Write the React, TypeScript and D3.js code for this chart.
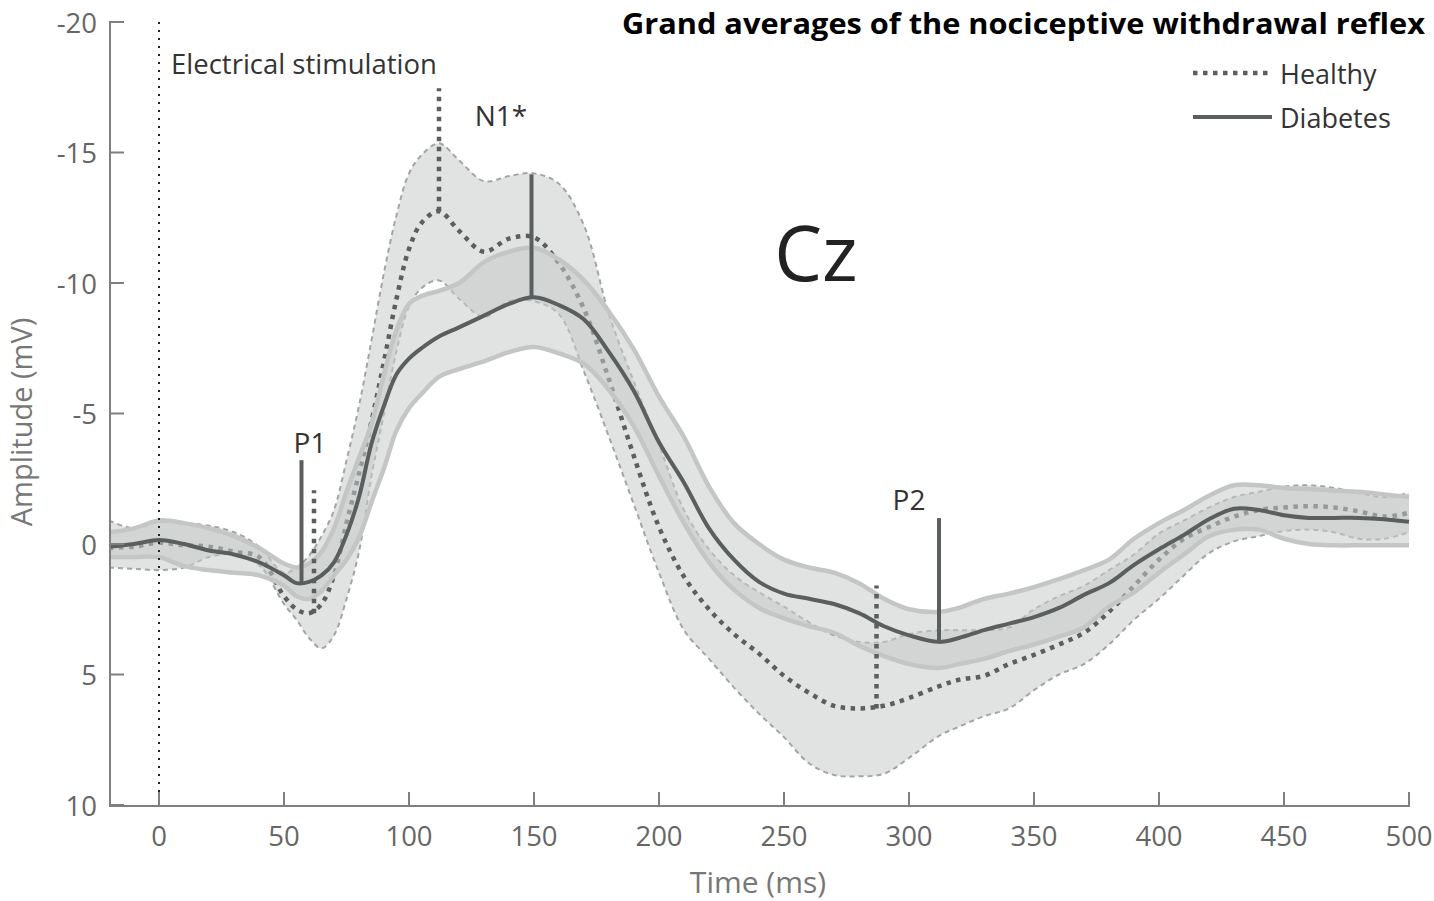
import React from "react";
import * as d3 from "d3";

// ---------- data ----------
const timeMs = [-20, -10, 0, 10, 20, 30, 40, 50, 55, 60, 65, 70, 75, 80, 85, 90, 95, 100, 105, 112, 120, 130, 140, 150, 160, 170, 180, 190, 200, 210, 220, 230, 240, 250, 260, 270, 280, 290, 300, 312, 320, 330, 340, 350, 360, 370, 380, 390, 400, 410, 420, 430, 440, 450, 460, 470, 480, 490, 500];

const diabetesMean = [0.1, 0.0, -0.15, 0.0, 0.25, 0.4, 0.7, 1.2, 1.5, 1.45, 1.2, 0.7, -0.35, -1.8, -3.85, -5.3, -6.5, -7.1, -7.5, -7.95, -8.3, -8.75, -9.2, -9.45, -9.15, -8.6, -7.35, -5.85, -3.9, -2.35, -0.6, 0.6, 1.45, 1.9, 2.1, 2.3, 2.65, 3.15, 3.5, 3.75, 3.6, 3.3, 3.05, 2.8, 2.45, 1.95, 1.5, 0.8, 0.2, -0.35, -0.95, -1.35, -1.3, -1.1, -1.0, -1.0, -1.0, -0.95, -0.85];
const diabetesUpper = [-0.45, -0.6, -0.9, -0.8, -0.6, -0.3, 0.15, 0.75, 0.9, 0.75, 0.3, -0.6, -2.0, -3.3, -4.6, -6.5, -8.2, -9.2, -9.5, -9.7, -10.0, -10.8, -11.2, -11.35, -10.9, -10.1, -8.9, -7.45, -5.65, -4.1, -2.2, -0.8, 0.0, 0.6, 0.9, 1.1, 1.5, 2.1, 2.5, 2.6, 2.45, 2.1, 1.9, 1.65, 1.35, 1.0, 0.6, -0.2, -0.8, -1.3, -1.85, -2.25, -2.25, -2.15, -2.1, -2.05, -2.0, -1.9, -1.8];
const diabetesLower = [0.5, 0.5, 0.5, 0.85, 1.0, 1.1, 1.2, 1.6, 2.0, 2.1, 1.8, 1.2, 0.6, -0.25, -1.6, -2.9, -4.35, -5.2, -5.75, -6.4, -6.7, -7.0, -7.35, -7.55, -7.3, -6.9, -5.9, -4.5, -2.6, -0.8, 0.7, 1.75, 2.45, 2.85, 3.15, 3.4, 3.9, 4.3, 4.6, 4.75, 4.6, 4.4, 4.1, 3.85, 3.55, 3.2, 2.4, 1.85, 1.1, 0.4, -0.3, -0.55, -0.55, -0.2, 0.0, 0.05, 0.05, 0.05, 0.05];

const healthyMean = [0.15, 0.1, -0.05, 0.05, 0.1, 0.3, 0.5, 2.0, 2.5, 2.65, 2.3, 1.2, -0.8, -2.7, -4.7, -7.0, -9.4, -11.3, -12.3, -12.75, -12.0, -11.2, -11.7, -11.75, -10.75, -9.0, -6.3, -3.35, -0.65, 1.25, 2.5, 3.45, 4.2, 5.05, 5.7, 6.2, 6.3, 6.2, 5.9, 5.45, 5.2, 5.05, 4.6, 4.25, 3.85, 3.4, 2.6, 1.6, 0.6, -0.2, -0.65, -1.05, -1.3, -1.4, -1.45, -1.4, -1.25, -1.05, -1.2];
const healthyUpper = [-0.9, -0.6, -0.85, -0.8, -0.7, -0.45, 0.1, 1.1, 0.9, 0.45, -0.3, -1.3, -3.2, -5.3, -7.8, -10.4, -12.6, -14.2, -14.9, -15.35, -14.7, -13.9, -14.1, -14.2, -13.8, -12.2, -8.8, -6.2, -3.8, -1.3, 0.2, 1.2, 1.85, 2.4, 3.0, 3.5, 3.75, 3.75, 3.45, 3.3, 3.3, 3.3, 3.2, 2.5, 2.0, 1.6, 1.0, 0.4, -0.4, -0.9, -1.4, -1.8, -2.0, -2.2, -2.25, -2.15, -1.95, -1.8, -1.95];
const healthyLower = [0.9, 0.95, 1.0, 0.9, 0.5, 0.4, 0.8, 2.3, 2.9, 3.6, 4.0, 3.5, 2.1, 0.3, -2.6, -5.0, -7.4, -9.1, -9.8, -10.1, -9.4, -8.7, -9.3, -9.3, -8.8, -6.6, -4.1, -1.5, 1.1, 3.3, 4.4, 5.5, 6.5, 7.4, 8.4, 8.85, 8.9, 8.8, 8.2, 7.35, 7.0, 6.6, 6.3, 5.6, 5.0, 4.6, 3.85, 2.9, 2.1, 1.2, 0.35, -0.1, -0.3, -0.5, -0.55, -0.45, -0.2, -0.2, -0.45];

// peak markers: group, latency (ms), amplitude at the peak
const peakGroups = ["Diabetes", "Healthy", "Healthy", "Diabetes", "Healthy", "Diabetes"];
const peakLatency = [57, 62, 112, 149, 287, 312];
const peakAmplitude = [1.5, 2.65, -12.75, -9.45, 6.3, 3.72];

// component labels (data coordinates)
const componentNames = ["P1", "N1*", "P2"];
const componentLabelMs = [60.4, 136.8, 300];
const componentLabelAmp = [-3.5, -16.0, -1.3];

const xTicks = [0, 50, 100, 150, 200, 250, 300, 350, 400, 450, 500];
const yTicks = [-20, -15, -10, -5, 0, 5, 10];

const legendNames = ["Healthy", "Diabetes"];

// ---------- styles ----------
const W = 1434;
const H = 901;
const FONT = "'Open Sans', 'Noto Sans', sans-serif";
const DARK = "#5a5e5e";
const AXIS = "#7f7f7f";
const BAND_FILL = "#c9cbcb";
const BAND_OPACITY = 0.55;
const DOT_DASH = "4.5 5.5";
const MARKER_LEN = 123;

export default function App() {
  const x = d3.scaleLinear().domain([-20, 500]).range([109, 1409]);
  const y = d3.scaleLinear().domain([-20, 10]).range([22, 805]);

  const idx = timeMs.map((_, i) => i);
  const curve = d3.curveCatmullRom.alpha(0.5);

  const line = (vals: number[]) =>
    d3.line<number>().x((i) => x(timeMs[i])).y((i) => y(vals[i])).curve(curve)(idx) || "";
  const area = (lo: number[], hi: number[]) =>
    d3
      .area<number>()
      .x((i) => x(timeMs[i]))
      .y0((i) => y(lo[i]))
      .y1((i) => y(hi[i]))
      .curve(curve)(idx) || "";

  const axisY = 806;
  const axisX = 110;

  return (
    <svg
      width={W}
      height={H}
      viewBox={`0 0 ${W} ${H}`}
      style={{ position: "absolute", left: 0, top: 0, background: "#fff" }}
      fontFamily={FONT}
    >
      {/* Healthy band */}
      <path d={area(healthyLower, healthyUpper)} fill={BAND_FILL} fillOpacity={BAND_OPACITY} stroke="none" />
      <path d={line(healthyUpper)} fill="none" stroke="#a3a5a5" strokeWidth={2} strokeDasharray="5 4" />
      <path d={line(healthyLower)} fill="none" stroke="#a3a5a5" strokeWidth={2} strokeDasharray="5 4" />
      {/* Healthy mean */}
      <path d={line(healthyMean)} fill="none" stroke={DARK} strokeWidth={4.5} strokeDasharray={DOT_DASH} />

      {/* Diabetes band */}
      <path d={area(diabetesLower, diabetesUpper)} fill={BAND_FILL} fillOpacity={BAND_OPACITY} stroke="none" />
      <path d={line(diabetesUpper)} fill="none" stroke="#c4c6c6" strokeWidth={4.5} />
      <path d={line(diabetesLower)} fill="none" stroke="#c4c6c6" strokeWidth={4.5} />
      {/* Diabetes mean */}
      <path d={line(diabetesMean)} fill="none" stroke={DARK} strokeWidth={4} />

      {/* Peak markers */}
      {peakLatency.map((ms, i) => {
        const healthy = peakGroups[i] === "Healthy";
        return (
          <line
            key={`pk${i}`}
            x1={x(ms)}
            x2={x(ms)}
            y1={y(peakAmplitude[i])}
            y2={y(peakAmplitude[i]) - MARKER_LEN}
            stroke={DARK}
            strokeWidth={healthy ? 4.5 : 4}
            strokeDasharray={healthy ? DOT_DASH : undefined}
          />
        );
      })}
      {componentNames.map((n, i) => (
        <text
          key={n}
          x={x(componentLabelMs[i])}
          y={y(componentLabelAmp[i])}
          textAnchor="middle"
          fontSize={28}
          fill="#333"
        >
          {n}
        </text>
      ))}

      {/* Electrical stimulation */}
      <line x1={x(0)} x2={x(0)} y1={22} y2={axisY - 4} stroke="#222" strokeWidth={2} strokeDasharray="2 6" />
      <text x={171} y={74} fontSize={27.5} fill="#333">
        Electrical stimulation
      </text>

      {/* Cz */}
      <text x={816} y={281} textAnchor="middle" fontSize={76} fill="#222">
        Cz
      </text>

      {/* Axes */}
      <line x1={axisX} x2={axisX} y1={21} y2={axisY + 1} stroke={AXIS} strokeWidth={2} />
      <line x1={axisX - 1} x2={1410} y1={axisY} y2={axisY} stroke={AXIS} strokeWidth={2} />
      {yTicks.map((t) => (
        <g key={`yt${t}`}>
          <line x1={axisX} x2={axisX + 14} y1={y(t)} y2={y(t)} stroke={AXIS} strokeWidth={2} />
          <text x={97} y={y(t)} textAnchor="end" dominantBaseline="central" fontSize={27.5} fill="#666">
            {t}
          </text>
        </g>
      ))}
      {xTicks.map((t) => (
        <g key={`xt${t}`}>
          <line x1={x(t)} x2={x(t)} y1={axisY} y2={axisY - 14} stroke={AXIS} strokeWidth={2} />
          <text x={x(t)} y={846} textAnchor="middle" fontSize={27.5} fill="#666">
            {t}
          </text>
        </g>
      ))}
      <text x={758} y={893} textAnchor="middle" fontSize={30} fill="#777">
        Time (ms)
      </text>
      <text
        transform={`translate(32,422) rotate(-90)`}
        textAnchor="middle"
        fontSize={29}
        fill="#777"
      >
        Amplitude (mV)
      </text>

      {/* Title */}
      <text
        x={1425}
        y={34}
        textAnchor="end"
        fontSize={29}
        fontWeight="bold"
        fill="#000"
        textLength={803}
        lengthAdjust="spacingAndGlyphs"
      >
        Grand averages of the nociceptive withdrawal reflex
      </text>

      {/* Legend */}
      {legendNames.map((n, i) => {
        const ly = 73 + i * 44;
        const healthy = n === "Healthy";
        return (
          <g key={n}>
            <line
              x1={1193}
              x2={1272}
              y1={ly}
              y2={ly}
              stroke={DARK}
              strokeWidth={healthy ? 4.5 : 4}
              strokeDasharray={healthy ? DOT_DASH : undefined}
            />
            <text x={1280} y={ly} dominantBaseline="central" fontSize={27} fill="#333">
              {n}
            </text>
          </g>
        );
      })}
    </svg>
  );
}
